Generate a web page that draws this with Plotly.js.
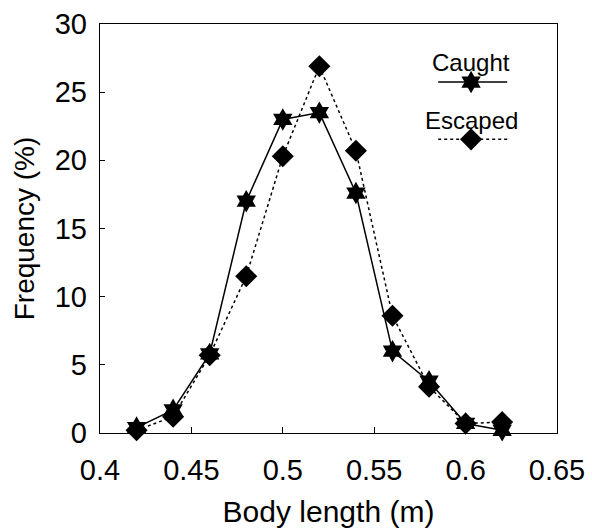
<!DOCTYPE html>
<html>
<head>
<meta charset="utf-8">
<script src="https://cdn.plot.ly/plotly-3.0.1.min.js"></script>
<style>html,body{margin:0;padding:0;background:#fff;}#chart{width:592px;height:531px;}</style>
</head>
<body>
<div id="chart"></div>
<script>
const bodyLength = [0.42, 0.44, 0.46, 0.48, 0.50, 0.52, 0.54, 0.56, 0.58, 0.60, 0.62];
const caught  = [0.4, 1.7, 5.8, 17.0, 23.0, 23.5, 17.6, 6.0, 3.8, 0.7, 0.2];
const escaped = [0.2, 1.2, 5.7, 11.5, 20.3, 26.9, 20.7, 8.6, 3.4, 0.7, 0.8];
const xTicks = [0.4, 0.45, 0.5, 0.55, 0.6, 0.65];
const xTickText = ['0.4', '0.45', '0.5', '0.55', '0.6', '0.65'];
const yTicks = [0, 5, 10, 15, 20, 25, 30];
const seriesNames = ['Caught', 'Escaped'];

const FONT = '"Liberation Sans", Arial, Helvetica, sans-serif';

// legend sample geometry (fractions of the plot area)
const legX0 = 0.740, legX1 = 0.891, legXm = 0.812;
const legY = [0.858, 0.718];
const legTextY = [0.905, 0.765];

const traces = [
  {
    x: bodyLength, y: escaped, name: seriesNames[1], type: 'scatter', mode: 'lines+markers',
    line: {color: '#000', width: 1.5, dash: 'dot'},
    marker: {symbol: 'diamond', size: 17, color: '#000'},
    showlegend: false, cliponaxis: false
  },
  {
    x: bodyLength, y: caught, name: seriesNames[0], type: 'scatter', mode: 'lines+markers',
    line: {color: '#000', width: 1.5},
    marker: {symbol: 'hexagram', size: 17, color: '#000'},
    showlegend: false, cliponaxis: false
  },
  // legend samples on an overlay axis 0..1
  {
    x: [legX0, legX1], y: [legY[0], legY[0]], xaxis: 'x2', yaxis: 'y2', mode: 'lines',
    line: {color: '#000', width: 1.5}, showlegend: false, hoverinfo: 'skip'
  },
  {
    x: [legXm], y: [legY[0]], xaxis: 'x2', yaxis: 'y2', mode: 'markers',
    marker: {symbol: 'hexagram', size: 17, color: '#000'}, showlegend: false, hoverinfo: 'skip'
  },
  {
    x: [legX0, legX1], y: [legY[1], legY[1]], xaxis: 'x2', yaxis: 'y2', mode: 'lines',
    line: {color: '#000', width: 1.5, dash: 'dot'}, showlegend: false, hoverinfo: 'skip'
  },
  {
    x: [legXm], y: [legY[1]], xaxis: 'x2', yaxis: 'y2', mode: 'markers',
    marker: {symbol: 'diamond', size: 17, color: '#000'}, showlegend: false, hoverinfo: 'skip'
  }
];

const layout = {
  width: 592, height: 531,
  margin: {l: 100, r: 35, t: 24, b: 98, pad: 0},
  paper_bgcolor: '#fff', plot_bgcolor: '#fff',
  font: {family: FONT, color: '#000', size: 28},
  showlegend: false,
  xaxis: {
    range: [0.4, 0.65], tickvals: xTicks, ticktext: xTickText,
    ticks: 'inside', ticklen: 6, tickwidth: 1, tickcolor: '#000',
    showline: true, linecolor: '#000', linewidth: 1.2, mirror: true,
    showgrid: false, zeroline: false,
    tickfont: {family: FONT, size: 29, color: '#000'},
    ticklabelstandoff: 11,
    title: {text: 'Body length (m)', font: {family: FONT, size: 30, color: '#000'}, standoff: 16}
  },
  yaxis: {
    range: [0, 30], tickvals: yTicks,
    ticks: 'inside', ticklen: 5, tickwidth: 1, tickcolor: '#000',
    showline: true, linecolor: '#000', linewidth: 1.2, mirror: true,
    showgrid: false, zeroline: false,
    tickfont: {family: FONT, size: 29, color: '#000'},
    ticklabelstandoff: 6,
    title: {text: 'Frequency (%)', font: {family: FONT, size: 28, color: '#000'}, standoff: 12}
  },
  xaxis2: {overlaying: 'x', range: [0, 1], visible: false, fixedrange: true},
  yaxis2: {overlaying: 'y', range: [0, 1], visible: false, fixedrange: true},
  annotations: [
    {xref: 'paper', yref: 'paper', x: legXm, y: legTextY[0], text: seriesNames[0], showarrow: false,
     xanchor: 'center', yanchor: 'middle', font: {family: FONT, size: 24, color: '#000'}},
    {xref: 'paper', yref: 'paper', x: legXm, y: legTextY[1], text: seriesNames[1], showarrow: false,
     xanchor: 'center', yanchor: 'middle', font: {family: FONT, size: 24, color: '#000'}}
  ]
};

Plotly.newPlot('chart', traces, layout, {displayModeBar: false, staticPlot: true});
</script>
</body>
</html>
